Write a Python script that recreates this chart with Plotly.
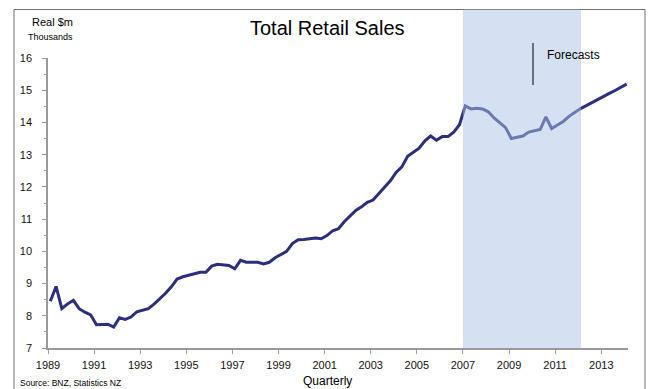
import plotly.graph_objects as go

# ---- data ----
quarter_x = [1989.1 + 0.25 * i for i in range(101)]
sales = [
    8.45, 8.91, 8.22, 8.37, 8.48, 8.22, 8.11, 8.03, 7.72, 7.74,
    7.74, 7.65, 7.94, 7.89, 7.96, 8.12, 8.18, 8.22, 8.36, 8.52,
    8.70, 8.90, 9.14, 9.21, 9.25, 9.29, 9.35, 9.35, 9.54, 9.60,
    9.59, 9.56, 9.46, 9.72, 9.66, 9.67, 9.66, 9.61, 9.66, 9.80,
    9.90, 10.00, 10.24, 10.36, 10.37, 10.40, 10.41, 10.39, 10.49, 10.64,
    10.70, 10.92, 11.10, 11.27, 11.38, 11.52, 11.59, 11.80, 12.00, 12.19,
    12.45, 12.62, 12.95, 13.07, 13.20, 13.43, 13.58, 13.45, 13.56, 13.56,
    13.70, 13.93, 14.51, 14.42, 14.44, 14.42, 14.33, 14.14, 14.00, 13.84,
    13.50, 13.54, 13.58, 13.70, 13.74, 13.78, 14.17, 13.81, 13.92, 14.03,
    14.19, 14.32, 14.43, 14.52, 14.62, 14.71, 14.80, 14.90, 14.99, 15.09,
    15.19,
]
year_ticks = [1989, 1991, 1993, 1995, 1997, 1999, 2001, 2003, 2005, 2007, 2009, 2011, 2013]
y_ticks = [7, 8, 9, 10, 11, 12, 13, 14, 15, 16]
shade_start, shade_end = 2007.0, 2012.12

# ---- layout geometry ----
W, H = 649, 389
L, R, T, B = 48, 21, 58, 41
pw, ph = W - L - R, H - T - B

def px(x):
    return (x - L) / pw

def py(y):
    return (H - B - y) / ph

FONT = "Liberation Sans, Arial, sans-serif"
NAVY = "#2b2f7c"

fig = go.Figure()
fig.add_trace(go.Scatter(x=quarter_x, y=sales, mode="lines",
                         line=dict(color=NAVY, width=3), hoverinfo="skip",
                         showlegend=False))

shapes = [
    # forecast shading (semi-transparent, above the line)
    dict(type="rect", xref="x", yref="paper", x0=shade_start, x1=shade_end,
         y0=0, y1=py(9.5), fillcolor="#abc1e5", opacity=0.5,
         line=dict(width=0), layer="above"),
    # outer frame
    dict(type="rect", xref="paper", yref="paper", x0=px(14), x1=px(645),
         y0=py(395), y1=py(9.5), line=dict(color="#707070", width=1),
         fillcolor="rgba(0,0,0,0)", layer="below"),
    # forecasts marker line
    dict(type="line", xref="paper", yref="paper", x0=px(533), x1=px(533),
         y0=py(43), y1=py(85), line=dict(color="#000000", width=1)),
]

annotations = [
    dict(text="Total Retail Sales", x=px(327), y=py(28), xref="paper", yref="paper",
         showarrow=False, font=dict(family=FONT, size=20, color="#000"),
         xanchor="center", yanchor="middle"),
    dict(text="Real $m", x=px(52), y=py(22), xref="paper", yref="paper",
         showarrow=False, font=dict(family=FONT, size=11, color="#000"),
         xanchor="center", yanchor="middle"),
    dict(text="Thousands", x=px(50), y=py(37), xref="paper", yref="paper",
         showarrow=False, font=dict(family=FONT, size=9, color="#000"),
         xanchor="center", yanchor="middle"),
    dict(text="Forecasts", x=px(545), y=py(55), xref="paper", yref="paper",
         showarrow=False, font=dict(family=FONT, size=12, color="#000"),
         xanchor="left", yanchor="middle"),
    dict(text="Quarterly", x=px(327), y=py(381), xref="paper", yref="paper",
         showarrow=False, font=dict(family=FONT, size=12, color="#000"),
         xanchor="center", yanchor="middle"),
    dict(text="Source: BNZ, Statistics NZ", x=px(18), y=py(383), xref="paper", yref="paper",
         showarrow=False, font=dict(family=FONT, size=8.5, color="#000"),
         xanchor="left", yanchor="middle"),
]

fig.update_layout(
    width=W, height=H,
    margin=dict(l=L, r=R, t=T, b=B, pad=0),
    paper_bgcolor="white", plot_bgcolor="white",
    shapes=shapes, annotations=annotations,
    font=dict(family=FONT, size=11, color="#111"),
    xaxis=dict(range=[1989, 2014.16], tickvals=year_ticks, ticktext=[str(v) for v in year_ticks],
               showgrid=False, zeroline=False, showline=True, linecolor="#9a9a9a", linewidth=2,
               ticks="outside", ticklen=4, tickcolor="#9a9a9a", tickwidth=1,
               ticklabelstandoff=2, tickfont=dict(family=FONT, size=11, color="#111")),
    yaxis=dict(range=[7, 16], tickvals=y_ticks, showgrid=False, zeroline=False,
               showline=True, linecolor="#9a9a9a", linewidth=1.5,
               ticks="outside", ticklen=4, tickcolor="#9a9a9a", tickwidth=1,
               minor=dict(dtick=0.5, ticks="outside", ticklen=2, tickcolor="#9a9a9a"),
               ticklabelstandoff=8, tickfont=dict(family=FONT, size=11, color="#111")),
)

fig.write_html("out.html")
